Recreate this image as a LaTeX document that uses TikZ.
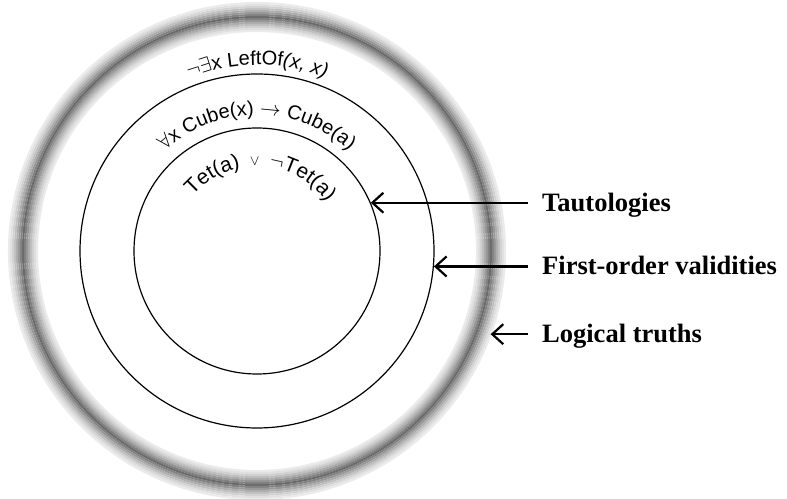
\documentclass[tikz,border=0pt]{standalone}
\usepackage{fontspec}
\setmainfont{Liberation Serif}
\setsansfont{Liberation Sans}
\usetikzlibrary{arrows.meta,decorations.text}
\newcommand\arcfont{\sffamily\fontsize{20}{24}\selectfont}
\newcommand\arcbig{\sffamily\fontsize{21}{25}\selectfont}
\newcommand\arcital{\sffamily\itshape\fontsize{20}{24}\selectfont}
\begin{document}
\begin{tikzpicture}[x=1pt,y=1pt,
  ringline/.style={circle,draw=black,line width=1.2pt,inner sep=0pt},
  pointer/.style={line width=2.2pt,-{Straight Barb[length=11pt,width=20pt]}},
  labeltext/.style={anchor=west,font=\fontsize{26.5}{30}\selectfont\bfseries,inner sep=0pt,text height=17pt,text depth=0pt}
]
\useasboundingbox (0,0) rectangle (787,498);
\coordinate (c) at (257,247);
% fuzzy grey ring (logical truths)
\foreach \k in {0,...,14}{
  \pgfmathsetmacro{\rr}{220+2*\k}
  \pgfmathsetmacro{\sh}{8+50*(1-abs(\rr-234)/14)^1.3}
  \draw[line width=2.1pt,draw=black!\sh] (c) circle[radius=\rr];
}
\node[ringline,minimum size=354pt] (mid) at (c) {};
\node[ringline,minimum size=246pt] (inner) at (c) {};
% curved texts
\path[decorate,decoration={text along path,text align=center,
  text={|\arcfont|{$\neg\exists$}x LeftOf|\arcital|(x, x)}}]
  ([shift={(150:186)}]c) arc[start angle=150,end angle=30,radius=186];
\path[decorate,decoration={text along path,text align=center,
  text={|\arcfont|{$\forall$}x Cube(x) {$\rightarrow$} Cube(a)}}]
  ([shift={(160:136)}]c) arc[start angle=160,end angle=20,radius=136];
\path[decorate,decoration={text along path,text align=center,
  text={|\arcbig|Tet(a){\hspace{10pt}\raisebox{1pt}{$\scriptstyle\vee$}\hspace{9pt}}{$\neg$}Tet(a)}}]
  ([shift={(175:85)}]c) arc[start angle=175,end angle=-1,radius=85];
% labels and arrows
\coordinate (t1) at (inner.23);
\coordinate (t2) at (mid.-5);
\coordinate (t3) at ([shift={(-19.6:248)}]c);
\node[labeltext] (taut) at (t1 -| 542,0) {Tautologies};
\node[labeltext] (fo) at (t2 -| 542,0) {First-order validities};
\node[labeltext] (lt) at (t3 -| 542,0) {Logical truths};
\draw[pointer] ([xshift=-14pt]taut.west) -- (t1);
\draw[pointer] ([xshift=-14pt]fo.west) -- (t2);
\draw[pointer] ([xshift=-14pt]lt.west) -- (t3);
\end{tikzpicture}
\end{document}
